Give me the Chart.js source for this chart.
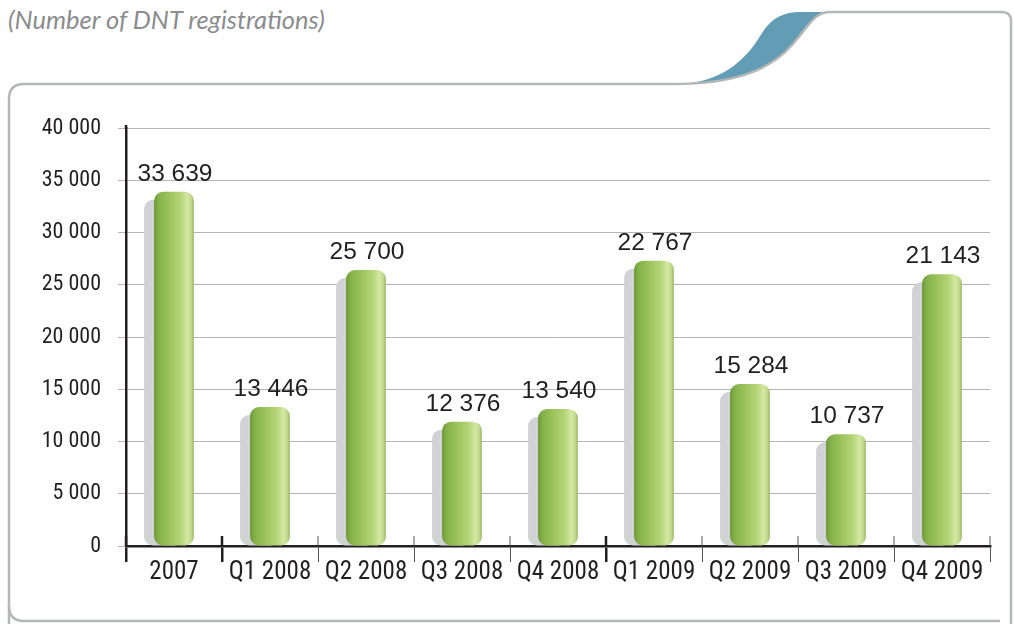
<!DOCTYPE html>
<html>
<head>
<meta charset="utf-8">
<script src="https://cdn.jsdelivr.net/npm/chart.js@4/dist/chart.umd.min.js"></script>
<style>
  html, body { margin: 0; padding: 0; background: #ffffff; }
  #wrap { position: relative; width: 1014px; height: 624px; overflow: hidden; }
  #deco { position: absolute; left: 0; top: 0; }
  #title { position: absolute; left: 8px; top: 4px; font-family: Lato, "Open Sans", sans-serif; font-style: italic; font-size: 25.5px; color: #8a8c8e; white-space: nowrap; }
  #c { position: absolute; left: 0; top: 0; }
</style>
</head>
<body>
<div id="wrap">
  <svg id="deco" width="1014" height="624" viewBox="0 0 1014 624">
    <path d="M 677,84 C 720,83 745,62 762,33 C 772,17 785,12 800,12 L 830,12 C 815,12 810,24 792,45 C 770,70 735,84 673,84 Z" fill="#639db5"/>
    <path d="M 9,640 L 9,99 Q 9,84 24,84 L 673,84 C 735,84 770,70 792,45 C 810,24 815,12 830,12 L 1002,12 Q 1011,12 1011,21 L 1011,640" fill="none" stroke="#b5b6b8" stroke-width="2.5"/>
    <path d="M 9,606 Q 9,621 24,621 L 1000,621" fill="none" stroke="#b5b6b8" stroke-width="2.5"/>
  </svg>
  <div id="title">(Number of DNT registrations)</div>
  <canvas id="c" width="1014" height="624"></canvas>
</div>
<script>
// ---- data ----
const categories = ['2007', 'Q1 2008', 'Q2 2008', 'Q3 2008', 'Q4 2008', 'Q1 2009', 'Q2 2009', 'Q3 2009', 'Q4 2009'];
// bar heights as drawn in the picture (read against the axis)
const barHeights = [33900, 13300, 26400, 11900, 13100, 27300, 15500, 10700, 26000];
// values printed above the bars
const barLabels = ['33 639', '13 446', '25 700', '12 376', '13 540', '22 767', '15 284', '10 737', '21 143'];
const yTickValues = [0, 5000, 10000, 15000, 20000, 25000, 30000, 35000, 40000];
const majorBoundaries = [0, 1, 5];

function fmt(v) { return String(v).replace(/\B(?=(\d{3})+(?!\d))/g, ' '); }

const AXIS = '#231f20';
const COND = '"Roboto Condensed", Roboto, sans-serif';
const CAT_PCT = 0.5, BAR_PCT = 0.83;

function barGradient(c) {
  const chart = c.chart;
  const xs = chart.scales.x;
  if (!xs || !chart.chartArea || c.dataIndex === undefined) return '#9fc45e';
  const x = xs.getPixelForValue(c.dataIndex);
  const w = xs.width / categories.length * CAT_PCT * BAR_PCT;
  const g = chart.ctx.createLinearGradient(x - w / 2, 0, x + w / 2, 0);
  g.addColorStop(0, '#6a9838');
  g.addColorStop(0.12, '#84b24a');
  g.addColorStop(0.4, '#9fc45e');
  g.addColorStop(0.65, '#b3d275');
  g.addColorStop(0.84, '#d5e8a3');
  g.addColorStop(0.94, '#bed68a');
  g.addColorStop(1, '#98b864');
  return g;
}

const decoPlugin = {
  id: 'deco',
  beforeDatasetsDraw(chart) {
    const ctx = chart.ctx;
    const meta = chart.getDatasetMeta(0);
    ctx.save();
    ctx.fillStyle = '#d1d2d4';
    meta.data.forEach(el => {
      const w = el.width;
      const left = el.x - w / 2 - 10;
      const top = el.y + 8;
      ctx.beginPath();
      ctx.roundRect(left, top, w, el.base - top, 9);
      ctx.fill();
    });
    ctx.restore();
  },
  afterDatasetsDraw(chart) {
    const ctx = chart.ctx;
    const meta = chart.getDatasetMeta(0);
    ctx.save();
    ctx.fillStyle = AXIS;
    ctx.font = '24.5px "Liberation Sans", Arial, sans-serif';
    ctx.textAlign = 'center';
    ctx.textBaseline = 'alphabetic';
    meta.data.forEach((el, i) => {
      ctx.fillText(barLabels[i], el.x + 1, el.y - 11);
    });
    ctx.restore();
  },
  afterDraw(chart) {
    const ctx = chart.ctx;
    const xs = chart.scales.x;
    const ys = chart.scales.y;
    const n = categories.length;
    ctx.save();
    for (let i = 0; i <= n; i++) {
      const x = xs.left + i * xs.width / n;
      const major = majorBoundaries.includes(i);
      ctx.strokeStyle = major ? AXIS : '#555555';
      ctx.lineWidth = major ? 2.5 : 1;
      ctx.beginPath();
      ctx.moveTo(x, ys.bottom - 10);
      ctx.lineTo(x, ys.bottom);
      ctx.stroke();
    }
    ctx.strokeStyle = AXIS;
    ctx.lineWidth = 2.5;
    ctx.beginPath();
    ctx.moveTo(ys.right, ys.top - 3);
    ctx.lineTo(ys.right, ys.top + 1);
    ctx.stroke();
    ctx.restore();
  }
};

new Chart(document.getElementById('c'), {
  type: 'bar',
  data: {
    labels: categories,
    datasets: [{
      data: barHeights,
      backgroundColor: barGradient,
      borderWidth: 0,
      borderRadius: 9,
      borderSkipped: false,
      barPercentage: BAR_PCT,
      categoryPercentage: CAT_PCT
    }]
  },
  options: {
    responsive: false,
    animation: false,
    events: [],
    layout: { padding: { left: 0, right: 24, top: 128, bottom: 0 } },
    plugins: { legend: { display: false }, tooltip: { enabled: false } },
    scales: {
      x: {
        offset: true,
        afterFit(s) { s.height = 78; },
        grid: {
          offset: true,
          drawOnChartArea: false,
          drawTicks: true,
          tickLength: 16,
          color: (c) => majorBoundaries.includes(c.index) ? AXIS : '#555555',
          lineWidth: (c) => majorBoundaries.includes(c.index) ? 2.5 : 1
        },
        border: { display: true, color: AXIS, width: 2.5 },
        ticks: {
          color: '#231f20',
          font: { family: COND, size: 25, weight: 400 },
          padding: -4,
          maxRotation: 0,
          autoSkip: false
        }
      },
      y: {
        min: 0,
        max: 40000,
        afterFit(s) { s.width = 126; },
        afterBuildTicks(s) { s.ticks = yTickValues.map(v => ({ value: v })); },
        grid: {
          color: '#b5b5b5',
          lineWidth: 1,
          drawTicks: true,
          tickLength: 8
        },
        border: { display: true, color: AXIS, width: 2.5 },
        ticks: {
          color: '#231f20',
          font: { family: COND, size: 22, weight: 400 },
          padding: 17,
          callback: (v) => fmt(v)
        }
      }
    }
  },
  plugins: [decoPlugin]
});
</script>
</body>
</html>
